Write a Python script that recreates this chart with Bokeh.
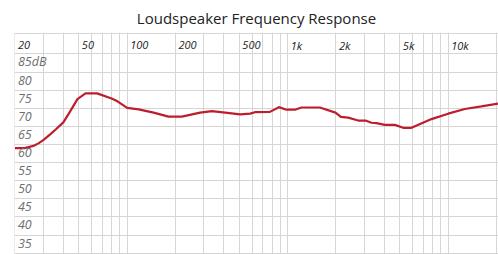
from bokeh.plotting import figure
from bokeh.models import Range1d, FixedTicker
from bokeh.core.properties import value
from bokeh.embed import file_html
from bokeh.resources import INLINE

# ---- data ----
freq_hz = [20, 23, 26, 28, 30, 33, 36, 40, 43, 49, 55, 65, 80, 87, 100, 118, 146, 181,
           219, 285, 337, 408, 506, 584, 625, 775, 882, 983, 1109, 1219, 1587,
           1986, 2145, 2382, 2750, 3052, 3327, 3575, 4033, 4656, 5244, 5907,
           7872, 10000, 12700, 16100, 20500]
level_db = [61.5, 61.5, 62.1, 62.8, 63.7, 65.2, 66.7, 68.6, 70.8, 75.0, 76.6, 76.6, 75.2, 74.4,
            72.6, 72.2, 71.3, 70.2, 70.2, 71.3, 71.7, 71.3, 70.8, 71.0, 71.4, 71.5,
            72.8, 72.1, 72.1, 72.7, 72.7, 71.3, 70.1, 69.9, 69.1, 69.1, 68.5, 68.4,
            67.9, 67.9, 67.1, 67.1, 69.5, 71.0, 72.3, 73.0, 73.8]

freq_grid = [20, 30, 40, 50, 60, 70, 80, 90, 100, 200, 300, 400, 500, 600, 700, 800, 900,
             1000, 2000, 3000, 4000, 5000, 6000, 7000, 8000, 9000, 10000, 20000]
freq_label_pos = [20, 50, 100, 200, 500, 1000, 2000, 5000, 10000]
freq_label_txt = ["20", "50", "100", "200", "500", "1k", "2k", "5k", "10k"]
db_label_pos = [85, 80, 75, 70, 65, 60, 55, 50, 45, 40, 35]
db_label_txt = ["85dB", "80", "75", "70", "65", "60", "55", "50", "45", "40", "35"]

Y_TOP = 93.41
Y_BOT = 32.12
ROW_LINES = [93.15] + [v + 2.5 for v in db_label_pos] + [32.5]
FREQ_ROW_Y = 89.9

p = figure(width=498, height=254, x_axis_type="log",
           x_range=Range1d(19.86, 20587), y_range=Range1d(Y_BOT, Y_TOP),
           output_backend="svg", toolbar_location=None,
           min_border_left=14, min_border_right=0, min_border_bottom=0, min_border_top=26)
p.title.text = "Loudspeaker Frequency Response"
p.title.align = "center"
p.title.text_font = "Open Sans"
p.title.text_font_size = "15px"
p.title.text_font_style = "normal"
p.title.text_color = "#222222"
p.outline_line_color = None
p.background_fill_color = "white"
p.border_fill_color = "white"

p.xaxis.visible = False
p.yaxis.visible = False
p.xgrid.ticker = FixedTicker(ticks=freq_grid)
p.ygrid.ticker = FixedTicker(ticks=ROW_LINES)
for g in (p.xgrid, p.ygrid):
    g.grid_line_color = "#d6d6d6"
    g.grid_line_width = 1
    g.grid_line_alpha = 1.0

p.line(freq_hz, level_db, line_color="#bd1e2d", line_width=2.2)

p.text(x=freq_label_pos, y=[FREQ_ROW_Y] * len(freq_label_pos), text=freq_label_txt,
       x_offset=3, text_align="left", text_baseline="middle",
       text_font=value("Open Sans"), text_font_style="italic",
       text_font_size="11px", text_color="#222222")
p.text(x=[20] * len(db_label_pos), y=db_label_pos, text=db_label_txt,
       x_offset=3, y_offset=-1, text_align="left", text_baseline="middle",
       text_font=value("Open Sans"), text_font_style="italic",
       text_font_size="12.5px", text_color="#6e6e6e")

open("out.html", "w").write(file_html(p, INLINE))
